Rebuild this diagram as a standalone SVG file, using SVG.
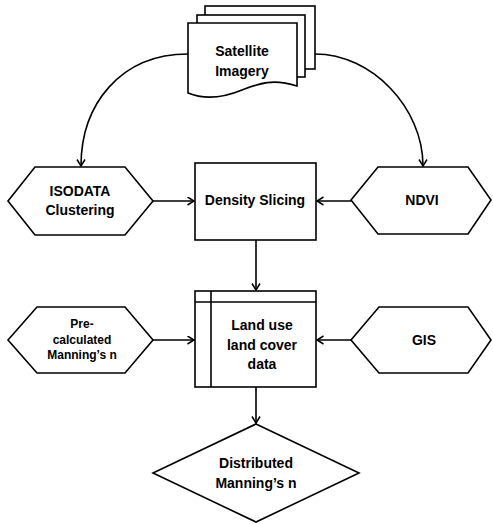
<svg xmlns="http://www.w3.org/2000/svg" width="493" height="524" viewBox="0 0 493 524">
<style>
.s{fill:#fff;stroke:#000;stroke-width:1.6;stroke-linejoin:miter}
.c{fill:none;stroke:#000;stroke-width:1.6}
text{font-family:"Liberation Sans",Arial,sans-serif;font-weight:bold;font-size:14px;text-anchor:middle;fill:#000}
.sm{font-size:12px}
</style>
<defs>
<marker id="ah" markerWidth="10" markerHeight="10" refX="7" refY="4.5" orient="auto" markerUnits="userSpaceOnUse">
<path d="M0.5,0.5 L7,4.5 L0.5,8.5" fill="none" stroke="#000" stroke-width="1.5"/>
</marker>
</defs>
<g id="connectors">
<path class="c" d="M188,54 C120,54 81,105 81,166" marker-end="url(#ah)"/>
<path class="c" d="M315,54 C372,54 423,108 423,166" marker-end="url(#ah)"/>
<line class="c" x1="153" y1="201" x2="194" y2="201" marker-end="url(#ah)"/>
<line class="c" x1="351" y1="201" x2="317" y2="201" marker-end="url(#ah)"/>
<line class="c" x1="256" y1="240" x2="256" y2="290" marker-end="url(#ah)"/>
<line class="c" x1="153" y1="340" x2="194" y2="340" marker-end="url(#ah)"/>
<line class="c" x1="351" y1="340" x2="317" y2="340" marker-end="url(#ah)"/>
<line class="c" x1="256" y1="387" x2="256" y2="423" marker-end="url(#ah)"/>
</g>
<g id="satellite">
<rect class="s" x="205" y="6" width="110" height="63"/>
<rect class="s" x="197" y="15" width="108" height="62"/>
<path class="s" d="M188,23 H297 V86 C272,78 258,84 242,90 C225,97 205,100 188,93 Z"/>
<text x="242" y="56">Satellite</text>
<text x="242" y="76">Imagery</text>
</g>
<g id="isodata">
<polygon class="s" points="8,201 35,167 125,167 153,201 125,235 35,235"/>
<text x="80" y="196">ISODATA</text>
<text x="80" y="215">Clustering</text>
</g>
<g id="density">
<rect class="s" x="195" y="163" width="121" height="77"/>
<text x="255" y="205">Density Slicing</text>
</g>
<g id="ndvi">
<polygon class="s" points="351,200 378,167 468,167 491,200 468,234 378,234"/>
<text x="422" y="205">NDVI</text>
</g>
<g id="precalc">
<polygon class="s" points="8,340 37,307 125,307 153,340 125,373 37,373"/>
<text class="sm" x="82" y="328">Pre-</text>
<text class="sm" x="82" y="344">calculated</text>
<text class="sm" x="82" y="359">Manning’s n</text>
</g>
<g id="landuse">
<rect class="s" x="195" y="291" width="121" height="96"/>
<line class="c" x1="195" y1="302" x2="316" y2="302"/>
<line class="c" x1="211" y1="291" x2="211" y2="387"/>
<text x="262" y="330">Land use</text>
<text x="262" y="350">land cover</text>
<text x="262" y="369">data</text>
</g>
<g id="gis">
<polygon class="s" points="351,340 379,307 468,307 491,340 468,373 379,373"/>
<text x="424" y="345">GIS</text>
</g>
<g id="distributed">
<polygon class="s" points="256,424 359,473 256,522 153,473"/>
<text x="256" y="468">Distributed</text>
<text x="256" y="488">Manning’s n</text>
</g>
</svg>
